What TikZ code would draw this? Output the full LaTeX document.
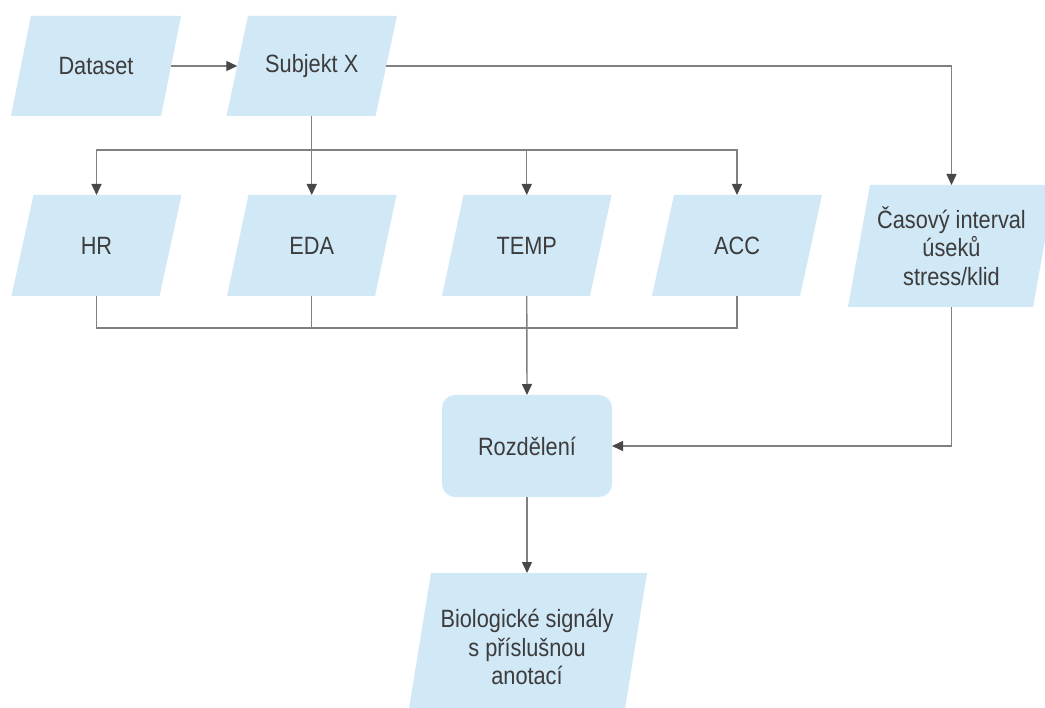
\documentclass[tikz,border=0pt]{standalone}
\usepackage{fontspec}
\setmainfont{Liberation Sans}[FakeStretch=0.87]
\usetikzlibrary{arrows.meta,backgrounds,calc}

\definecolor{boxfill}{RGB}{209,232,246}
\definecolor{wire}{RGB}{128,128,128}
\definecolor{tipcol}{RGB}{72,72,72}
\definecolor{ink}{RGB}{60,60,60}

\tikzset{
  label text/.style={inner sep=0pt, outer sep=0pt, text=ink, align=center,
    font=\fontsize{25}{28.5}\selectfont},
  databox/.style={label text, rectangle, minimum width=#1},
  rowbox/.style={databox=148, minimum height=101},
  roundbox/.style={label text, rectangle, rounded corners=13pt, fill=boxfill,
    minimum width=170, minimum height=102},
  link/.style={wire, line width=1.4pt,
    -{Triangle[length=11pt,width=10pt,color=tipcol]}},
  plain link/.style={wire, line width=1.4pt},
}

% parallelogram fill behind a node: #1 node name, #2 horizontal slant
\newcommand\slantfill[2]{%
  \fill[boxfill] ($(#1.north west)+(#2/2,0)$) -- ($(#1.north east)+(#2/2,0)$)
    -- ($(#1.south east)+(-#2/2,0)$) -- ($(#1.south west)+(-#2/2,0)$) -- cycle;}

\begin{document}
\begin{tikzpicture}[x=1pt,y=-1pt]
  \useasboundingbox (0,0) rectangle (1045,708);

  % data nodes
  \node[databox=150, minimum height=100] (ds)  at (96,66)      {Dataset};
  \node[databox=149, minimum height=100] (sx)  at (311.75,66)  {Subjekt X};
  \node[rowbox] (hr)   at (96.5,245.5)   {HR};
  \node[rowbox] (eda)  at (311.75,245.5) {EDA};
  \node[rowbox] (temp) at (526.75,245.5) {TEMP};
  \node[rowbox] (acc)  at (737,245.5)    {ACC};
  \node[databox=185, minimum height=122] (cas) at (951.5,246)
    {Časový interval\\úseků\\stress/klid};
  \node[roundbox] (split) at (527,446) {Rozdělení};
  \node[databox=216, minimum height=148] (bio) at (527,647)
    {Biologické signály\\s příslušnou\\anotací};

  % white page and parallelogram shapes behind the labels
  \begin{scope}[on background layer]
    \fill[white] (0,0) rectangle (1045,708);
    \slantfill{ds}{20}
    \slantfill{sx}{21.5}
    \slantfill{hr}{22}
    \slantfill{eda}{21.5}
    \slantfill{temp}{21.5}
    \slantfill{acc}{22}
    \slantfill{cas}{22}
    \slantfill{bio}{24}
  \end{scope}

  % connectors
  \coordinate (fork) at ($(sx.south)+(0,34)$);
  \coordinate (join) at ($(temp.south)+(0,32)$);

  \draw[link] (ds.east) -- (sx.west);
  \draw[link] (sx.east) -| (cas.north);

  \draw[link] (sx.south) -- (eda.north);
  \draw[link] (fork) -| (hr.north);
  \draw[link] (fork) -| (temp.north);
  \draw[link] (fork) -| (acc.north);

  \draw[plain link] (hr.south) |- (join);
  \draw[plain link] (acc.south) |- (join);
  \draw[plain link] (eda.south) -- (eda.south |- join);
  \draw[link] (temp.south) -- (split.north);

  \draw[link] (cas.south) |- (split.east);
  \draw[link] (split.south) -- (bio.north);
\end{tikzpicture}
\end{document}
